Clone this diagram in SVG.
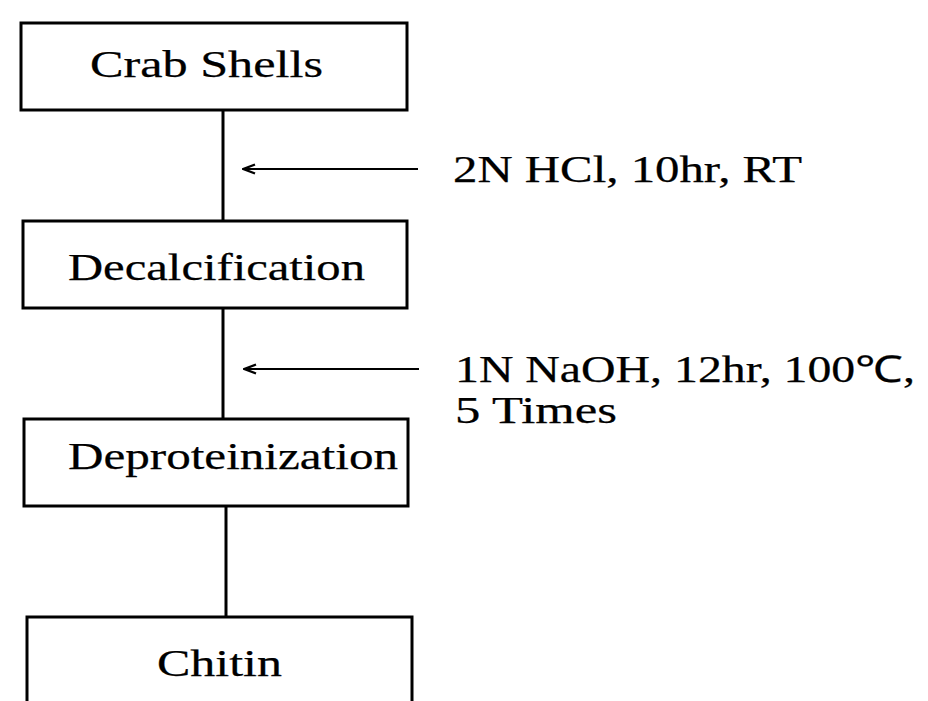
<svg xmlns="http://www.w3.org/2000/svg" width="928" height="701" viewBox="0 0 928 701">
<style>
.box{fill:#fff;stroke:#000;stroke-width:3}
.t{font-family:"Liberation Serif","Times New Roman",serif;font-size:37px;fill:#000;stroke:#000;stroke-width:0.25}
.line{stroke:#000;stroke-width:3;fill:none}
.arr{stroke:#000;stroke-width:2.2;fill:none}
</style>
<defs>
<marker id="ah" viewBox="0 0 14 12" refX="1" refY="6" markerWidth="14" markerHeight="12" markerUnits="userSpaceOnUse" orient="auto">
<path d="M13,1.5 L1.5,6 L13,10.5" fill="none" stroke="#000" stroke-width="2.4"/>
</marker>
</defs>
<rect width="928" height="701" fill="#fff"/>
<g id="connectors">
<line class="line" x1="223" y1="110" x2="223" y2="221"/>
<line class="line" x1="223" y1="308" x2="223" y2="419"/>
<line class="line" x1="226" y1="506" x2="226" y2="617"/>
<line class="arr" x1="243" y1="169" x2="418" y2="169" marker-start="url(#ah)"/>
<line class="arr" x1="244" y1="369" x2="419" y2="369" marker-start="url(#ah)"/>
</g>
<g id="n1">
<rect class="box" x="21" y="23" width="386" height="87"/>
<text class="t" x="90" y="77" textLength="233" lengthAdjust="spacingAndGlyphs">Crab Shells</text>
</g>
<g id="n2">
<rect class="box" x="23" y="221" width="384" height="87"/>
<text class="t" x="68" y="280" textLength="297" lengthAdjust="spacingAndGlyphs">Decalcification</text>
</g>
<g id="n3">
<rect class="box" x="24" y="419" width="384" height="87"/>
<text class="t" x="68" y="469" textLength="330" lengthAdjust="spacingAndGlyphs">Deproteinization</text>
</g>
<g id="n4">
<rect class="box" x="27" y="617" width="385" height="100"/>
<text class="t" x="157" y="676" textLength="125" lengthAdjust="spacingAndGlyphs">Chitin</text>
</g>
<g id="labels">
<text class="t" x="453" y="182" textLength="349" lengthAdjust="spacingAndGlyphs">2N HCl, 10hr, RT</text>
<text class="t" x="455" y="382" textLength="460" lengthAdjust="spacingAndGlyphs">1N NaOH, 12hr, 100℃,</text>
<text class="t" x="455" y="423" textLength="162" lengthAdjust="spacingAndGlyphs">5 Times</text>
</g>
</svg>
